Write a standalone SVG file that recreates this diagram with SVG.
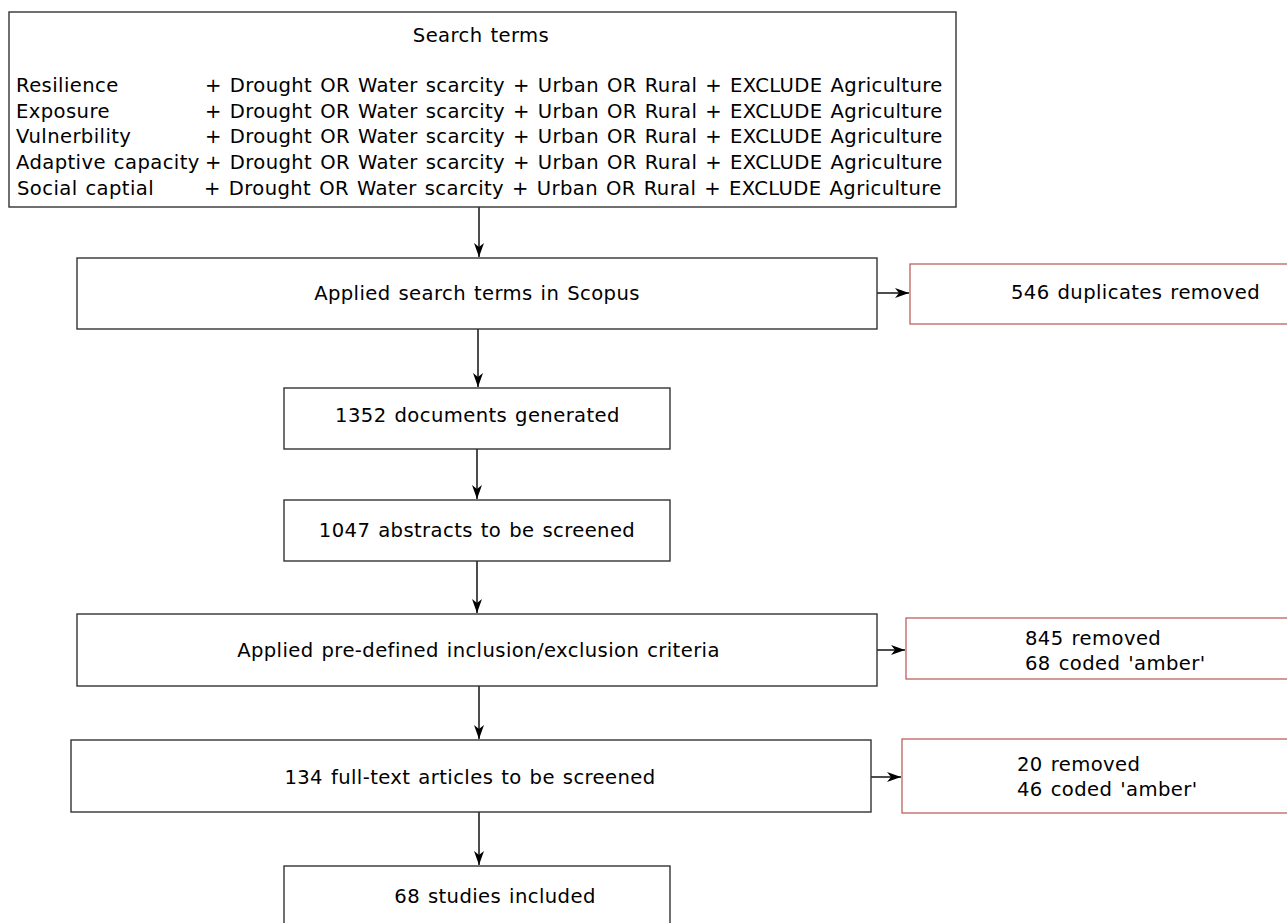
<svg xmlns="http://www.w3.org/2000/svg" width="1287" height="923" viewBox="0 0 1287 923">
<style>
text{font-family:"DejaVu Sans","Verdana",sans-serif;font-size:19.6px;letter-spacing:0.4px;word-spacing:1.3px;fill:#000}
.box{fill:#fff;stroke:#333;stroke-width:1.4}
.red{fill:#fff;stroke:#b85450;stroke-width:1.2}
.c{text-anchor:middle}
.edge{stroke:#000;stroke-width:1.4;fill:none;marker-end:url(#ah)}
</style>
<defs>
<marker id="ah" markerWidth="16" markerHeight="10" refX="14" refY="5" orient="auto" markerUnits="userSpaceOnUse">
<path d="M0,0 L14,5 L0,10 L4,5 Z" fill="#000"/>
</marker>
</defs>
<rect width="1287" height="923" fill="#fff"/>
<g id="connectors">
<path class="edge" d="M479,207 V257"/>
<path class="edge" d="M478,329 V387"/>
<path class="edge" d="M477,449 V499"/>
<path class="edge" d="M477,561 V613"/>
<path class="edge" d="M479,686 V739"/>
<path class="edge" d="M479,812 V865"/>
<path class="edge" d="M877,293 H909"/>
<path class="edge" d="M877,650 H905"/>
<path class="edge" d="M871,777 H901"/>
</g>
<g id="search-terms">
<rect class="box" x="9" y="12" width="947" height="195"/>
<text class="c" x="481" y="41.5">Search terms</text>
<text x="16" y="92">Resilience</text>
<text x="205" y="92">+ Drought OR Water scarcity + Urban OR Rural + EXCLUDE Agriculture</text>
<text x="16" y="117.5">Exposure</text>
<text x="205" y="117.5">+ Drought OR Water scarcity + Urban OR Rural + EXCLUDE Agriculture</text>
<text x="16" y="143">Vulnerbility</text>
<text x="205" y="143">+ Drought OR Water scarcity + Urban OR Rural + EXCLUDE Agriculture</text>
<text x="16" y="169">Adaptive capacity</text>
<text x="205" y="169">+ Drought OR Water scarcity + Urban OR Rural + EXCLUDE Agriculture</text>
<text x="17" y="195">Social captial</text>
<text x="204" y="195">+ Drought OR Water scarcity + Urban OR Rural + EXCLUDE Agriculture</text>
</g>
<g id="scopus">
<rect class="box" x="77" y="258" width="800" height="71"/>
<text class="c" x="477" y="300">Applied search terms in Scopus</text>
</g>
<g id="duplicates">
<rect class="red" x="910" y="264" width="400" height="60"/>
<text x="1011" y="299">546 duplicates removed</text>
</g>
<g id="documents">
<rect class="box" x="284" y="388" width="386" height="61"/>
<text class="c" x="477.5" y="422">1352 documents generated</text>
</g>
<g id="abstracts">
<rect class="box" x="284" y="500" width="386" height="61"/>
<text class="c" x="477" y="537">1047 abstracts to be screened</text>
</g>
<g id="criteria">
<rect class="box" x="77" y="614" width="800" height="72"/>
<text class="c" x="478.5" y="657">Applied pre-defined inclusion/exclusion criteria</text>
</g>
<g id="removed-845">
<rect class="red" x="906" y="618" width="400" height="61"/>
<text x="1025" y="645">845 removed</text>
<text x="1025" y="670">68 coded 'amber'</text>
</g>
<g id="fulltext">
<rect class="box" x="71" y="740" width="800" height="72"/>
<text class="c" x="470" y="784">134 full-text articles to be screened</text>
</g>
<g id="removed-20">
<rect class="red" x="902" y="739" width="400" height="74"/>
<text x="1017" y="771">20 removed</text>
<text x="1017" y="796">46 coded 'amber'</text>
</g>
<g id="included">
<rect class="box" x="284" y="866" width="386" height="80"/>
<text class="c" x="495" y="903">68 studies included</text>
</g>
</svg>
